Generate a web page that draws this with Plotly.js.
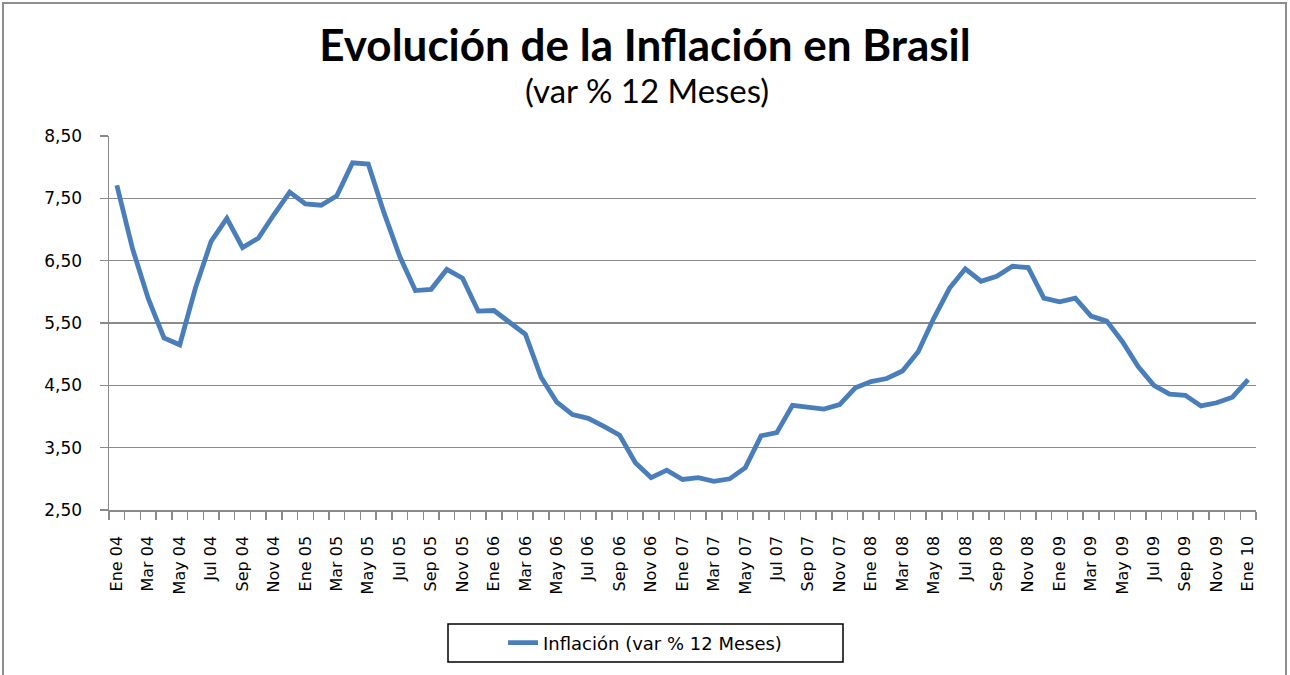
<!DOCTYPE html>
<html>
<head>
<meta charset="utf-8">
<script src="https://cdn.plot.ly/plotly-3.0.1.min.js"></script>
<style>
html,body{margin:0;padding:0;background:#fff;}
#chart{position:absolute;left:0;top:0;width:1290px;height:675px;}
#frame{position:absolute;left:2px;top:2px;width:1285px;height:700px;border:2px solid #8e8e8e;box-sizing:border-box;pointer-events:none;}
</style>
</head>
<body>
<div id="chart"></div>
<div id="frame"></div>
<script>
// ---- data ----
const monthNames = ['Ene','Feb','Mar','Abr','May','Jun','Jul','Ago','Sep','Oct','Nov','Dic'];
const years = ['04','05','06','07','08','09','10'];
// monthly categories Ene 04 .. Ene 10
const categories = [];
years.forEach(y => monthNames.forEach(m => { if (categories.length < 73) categories.push(m + ' ' + y); }));

const inflation = [
  7.71, 6.69, 5.89, 5.26, 5.15, 6.06, 6.81, 7.18, 6.71, 6.86, 7.24, 7.60,   // 2004
  7.41, 7.39, 7.54, 8.07, 8.05, 7.27, 6.57, 6.02, 6.04, 6.36, 6.22, 5.69,   // 2005
  5.70, 5.51, 5.32, 4.63, 4.23, 4.03, 3.97, 3.84, 3.70, 3.26, 3.02, 3.14,   // 2006
  2.99, 3.02, 2.96, 3.00, 3.18, 3.69, 3.74, 4.18, 4.15, 4.12, 4.19, 4.46,   // 2007
  4.56, 4.61, 4.73, 5.04, 5.58, 6.06, 6.37, 6.17, 6.25, 6.41, 6.39, 5.90,   // 2008
  5.84, 5.90, 5.61, 5.53, 5.20, 4.80, 4.50, 4.36, 4.34, 4.17, 4.22, 4.31,   // 2009
  4.59                                                                       // 2010
];
const seriesName = 'Inflación (var % 12 Meses)';
const yTicks = [2.5, 3.5, 4.5, 5.5, 6.5, 7.5, 8.5];

// ---- chart ----
const idx = categories.map((c, i) => i);
const tickIdx = idx.filter(i => i % 2 === 0);
const tickText = tickIdx.map(i => categories[i]);

const L = 109, R = 1256, T = 136, B = 510;
const px2x = p => (p - L) / (R - L);
const px2y = p => (B - p) / (B - T);

const trace = {
  type: 'scatter',
  mode: 'lines',
  x: idx,
  y: inflation,
  text: categories,
  name: seriesName,
  line: {color: '#4A7EBB', width: 4.8},
  hovertemplate: '%{text}: %{y:.2f}<extra></extra>'
};

const gridCol = '#8a8a8a';
const layout = {
  width: 1290, height: 675,
  margin: {l: L, r: 1290 - R, t: T, b: 675 - B},
  paper_bgcolor: '#ffffff',
  plot_bgcolor: '#ffffff',
  separators: ',.',
  showlegend: true,
  title: {
    text: '<b>Evolución de la Inflación en Brasil</b>',
    font: {family: 'Lato, "Open Sans", sans-serif', size: 44, color: '#000'},
    x: 0.5, xref: 'container', xanchor: 'center',
    y: 1 - 46 / 675, yref: 'container', yanchor: 'middle'
  },
  annotations: [{
    text: '(var % 12 Meses)',
    xref: 'paper', yref: 'paper',
    x: px2x(647), y: px2y(90), xanchor: 'center', yanchor: 'middle',
    showarrow: false,
    font: {family: 'Lato, "Open Sans", sans-serif', size: 33, color: '#000'}
  }],
  xaxis: {
    type: 'linear',
    range: [-0.5, categories.length - 0.5],
    tickmode: 'array',
    tickvals: tickIdx,
    ticktext: tickText,
    tickangle: -90,
    ticks: '',
    ticklabelstandoff: 18,
    tickfont: {family: '"DejaVu Sans", Verdana, sans-serif', size: 16, color: '#000'},
    showgrid: false,
    zeroline: false,
    showline: true,
    linecolor: gridCol,
    linewidth: 1.5,
    minor: {
      tickmode: 'linear', tick0: -0.5, dtick: 1,
      ticks: 'outside', ticklen: 8, tickwidth: 1.5, tickcolor: gridCol,
      showgrid: false
    },
    fixedrange: true
  },
  yaxis: {
    range: [2.5, 8.5],
    tickmode: 'array',
    tickvals: yTicks,
    tickformat: '.2f',
    ticks: 'outside',
    ticklen: 8,
    tickwidth: 1.5,
    tickcolor: gridCol,
    ticklabelstandoff: 14,
    tickfont: {family: '"DejaVu Sans", Verdana, sans-serif', size: 17, color: '#000'},
    showgrid: true,
    gridcolor: gridCol,
    gridwidth: 1.5,
    zeroline: false,
    showline: true,
    linecolor: gridCol,
    linewidth: 1.5,
    fixedrange: true
  },
  legend: {
    orientation: 'h',
    x: px2x(503), xanchor: 'left',
    y: px2y(643), yanchor: 'middle',
    bgcolor: 'rgba(0,0,0,0)',
    borderwidth: 0,
    font: {family: '"DejaVu Sans", Verdana, sans-serif', size: 18, color: '#000'}
  },
  shapes: [{
    type: 'rect', xref: 'paper', yref: 'paper',
    x0: px2x(448), x1: px2x(843), y0: px2y(624), y1: px2y(662),
    line: {color: '#000', width: 1.5},
    fillcolor: 'rgba(0,0,0,0)',
    layer: 'above'
  }]
};

Plotly.newPlot('chart', [trace], layout, {displayModeBar: false, staticPlot: true});
</script>
</body>
</html>
